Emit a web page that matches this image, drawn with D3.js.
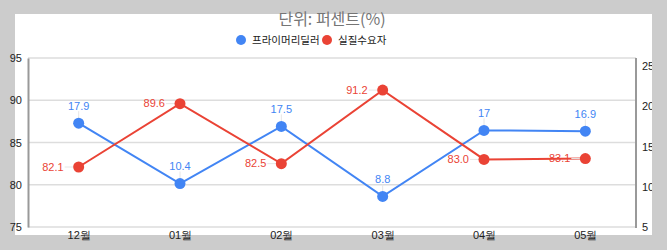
<!DOCTYPE html>
<html>
<head>
<meta charset="utf-8">
<script src="https://cdn.jsdelivr.net/npm/d3@7"></script>
<style>
  body { margin: 0; background: #cccccc; }
  svg { display: block; font-family: "Noto Sans CJK KR", "Noto Sans", sans-serif; }
</style>
</head>
<body>
<div id="chart"></div>
<script>
var months = ['12월', '01월', '02월', '03월', '04월', '05월'];
var dealerValues = [17.9, 10.4, 17.5, 8.8, 17, 16.9];
var demandValues = [82.1, 89.6, 82.5, 91.2, 83.0, 83.1];
var leftTicks = [75, 80, 85, 90, 95];
var rightTicks = [5, 10, 15, 20, 25];
var seriesNames = ['프라이머리딜러', '실질수요자'];

var svgWidth = 667;
var svgHeight = 250;
var blue = '#4285f4';
var red = '#ea4335';

var svg = d3.select('#chart')
  .append('svg')
  .attr('width', svgWidth)
  .attr('height', svgHeight);

// white panel on the gray page
svg.append('rect')
  .attr('x', 15).attr('y', 14)
  .attr('width', 637).attr('height', 221)
  .attr('fill', '#fff');

svg.append('clipPath').attr('id', 'panelClip')
  .append('rect')
  .attr('x', 15).attr('y', 14)
  .attr('width', 637).attr('height', 221);

var plot = { left: 28, right: 636, top: 58, bottom: 227 };

var x = d3.scalePoint()
  .domain(months)
  .range([plot.left, plot.right])
  .padding(0.5);

var yLeft = d3.scaleLinear()
  .domain([75, 95])
  .range([plot.bottom, plot.top]);

var yRight = d3.scaleLinear()
  .domain([5, 25])
  .range([plot.bottom, 66]);

// gridlines
svg.append('g')
  .selectAll('line')
  .data(leftTicks)
  .enter()
  .append('line')
  .attr('x1', plot.left).attr('x2', plot.right)
  .attr('y1', d => yLeft(d)).attr('y2', d => yLeft(d))
  .attr('stroke', '#dddddd')
  .attr('stroke-width', 1.5);

// left axis
var leftAxis = d3.axisLeft(yLeft).tickValues(leftTicks).tickSize(0).tickPadding(6);
var gl = svg.append('g')
  .attr('transform', `translate(${plot.left}, 0)`)
  .call(leftAxis);
gl.select('.domain').attr('stroke', '#999').attr('stroke-width', 2);
gl.selectAll('text').attr('font-size', 11).attr('fill', '#222')
  .attr('font-family', 'Liberation Sans, Arial, sans-serif');

// right axis
var rightAxis = d3.axisRight(yRight).tickValues(rightTicks).tickSize(0).tickPadding(6);
var gr = svg.append('g')
  .attr('clip-path', 'url(#panelClip)')
  .append('g')
  .attr('transform', `translate(${plot.right}, 0)`)
  .call(rightAxis);
gr.select('.domain').remove();
gr.selectAll('text').attr('font-size', 11).attr('fill', '#222')
  .attr('font-family', 'Liberation Sans, Arial, sans-serif');
svg.append('line')
  .attr('x1', plot.right).attr('x2', plot.right)
  .attr('y1', plot.top).attr('y2', plot.bottom + 1)
  .attr('stroke', '#999').attr('stroke-width', 2);

// bottom axis labels
var bottomAxis = d3.axisBottom(x).tickSize(0).tickPadding(4);
var gb = svg.append('g')
  .attr('transform', `translate(0, ${plot.bottom})`)
  .call(bottomAxis);
gb.select('.domain').remove();
gb.selectAll('text').attr('font-size', 11).attr('fill', '#222');

// lines
var dealerLine = d3.line()
  .x((d, i) => x(months[i]))
  .y(d => yRight(d));
var demandLine = d3.line()
  .x((d, i) => x(months[i]))
  .y(d => yLeft(d));

svg.append('path')
  .datum(dealerValues)
  .attr('d', dealerLine)
  .attr('fill', 'none')
  .attr('stroke', blue)
  .attr('stroke-width', 2);

svg.append('path')
  .datum(demandValues)
  .attr('d', demandLine)
  .attr('fill', 'none')
  .attr('stroke', red)
  .attr('stroke-width', 2);

// leader lines
svg.append('g').selectAll('line')
  .data(dealerValues)
  .enter()
  .append('line')
  .attr('x1', (d, i) => x(months[i])).attr('x2', (d, i) => x(months[i]))
  .attr('y1', d => yRight(d) - 12).attr('y2', d => yRight(d))
  .attr('stroke', '#e6e6e6').attr('stroke-width', 1);

svg.append('g').selectAll('line')
  .data(demandValues)
  .enter()
  .append('line')
  .attr('x1', (d, i) => x(months[i]) - 14).attr('x2', (d, i) => x(months[i]))
  .attr('y1', d => yLeft(d)).attr('y2', d => yLeft(d))
  .attr('stroke', '#e6e6e6').attr('stroke-width', 1);

// points
svg.append('g').selectAll('circle')
  .data(dealerValues)
  .enter()
  .append('circle')
  .attr('cx', (d, i) => x(months[i]))
  .attr('cy', d => yRight(d))
  .attr('r', 5.5)
  .attr('fill', blue);

svg.append('g').selectAll('circle')
  .data(demandValues)
  .enter()
  .append('circle')
  .attr('cx', (d, i) => x(months[i]))
  .attr('cy', d => yLeft(d))
  .attr('r', 5.5)
  .attr('fill', red);

// data labels
svg.append('g').selectAll('text')
  .data(dealerValues)
  .enter()
  .append('text')
  .attr('x', (d, i) => x(months[i]))
  .attr('y', d => yRight(d) - 17)
  .attr('dy', '0.35em')
  .attr('text-anchor', 'middle')
  .attr('font-size', 11)
  .attr('font-family', 'Liberation Sans, Arial, sans-serif')
  .attr('fill', blue)
  .text(d => d);

svg.append('g').selectAll('text')
  .data(demandValues)
  .enter()
  .append('text')
  .attr('x', (d, i) => x(months[i]) - 15)
  .attr('y', d => yLeft(d))
  .attr('dy', '0.35em')
  .attr('text-anchor', 'end')
  .attr('font-size', 11)
  .attr('font-family', 'Liberation Sans, Arial, sans-serif')
  .attr('fill', red)
  .text(d => d.toFixed(1));

// title
svg.append('text')
  .attr('x', 332)
  .attr('y', 19)
  .attr('dy', '0.35em')
  .attr('text-anchor', 'middle')
  .attr('font-size', 16)
  .attr('fill', '#757575')
  .text('단위: 퍼센트(%)');

// legend
var legend = svg.append('g');
var legendX = [241, 327];
var legendColors = [blue, red];
legend.selectAll('circle')
  .data(seriesNames)
  .enter()
  .append('circle')
  .attr('cx', (d, i) => legendX[i])
  .attr('cy', 40)
  .attr('r', 5)
  .attr('fill', (d, i) => legendColors[i]);
legend.selectAll('text')
  .data(seriesNames)
  .enter()
  .append('text')
  .attr('x', (d, i) => legendX[i] + 11)
  .attr('y', 40)
  .attr('dy', '0.35em')
  .attr('font-size', 10.5)
  .attr('fill', '#222')
  .text(d => d);
</script>
</body>
</html>
